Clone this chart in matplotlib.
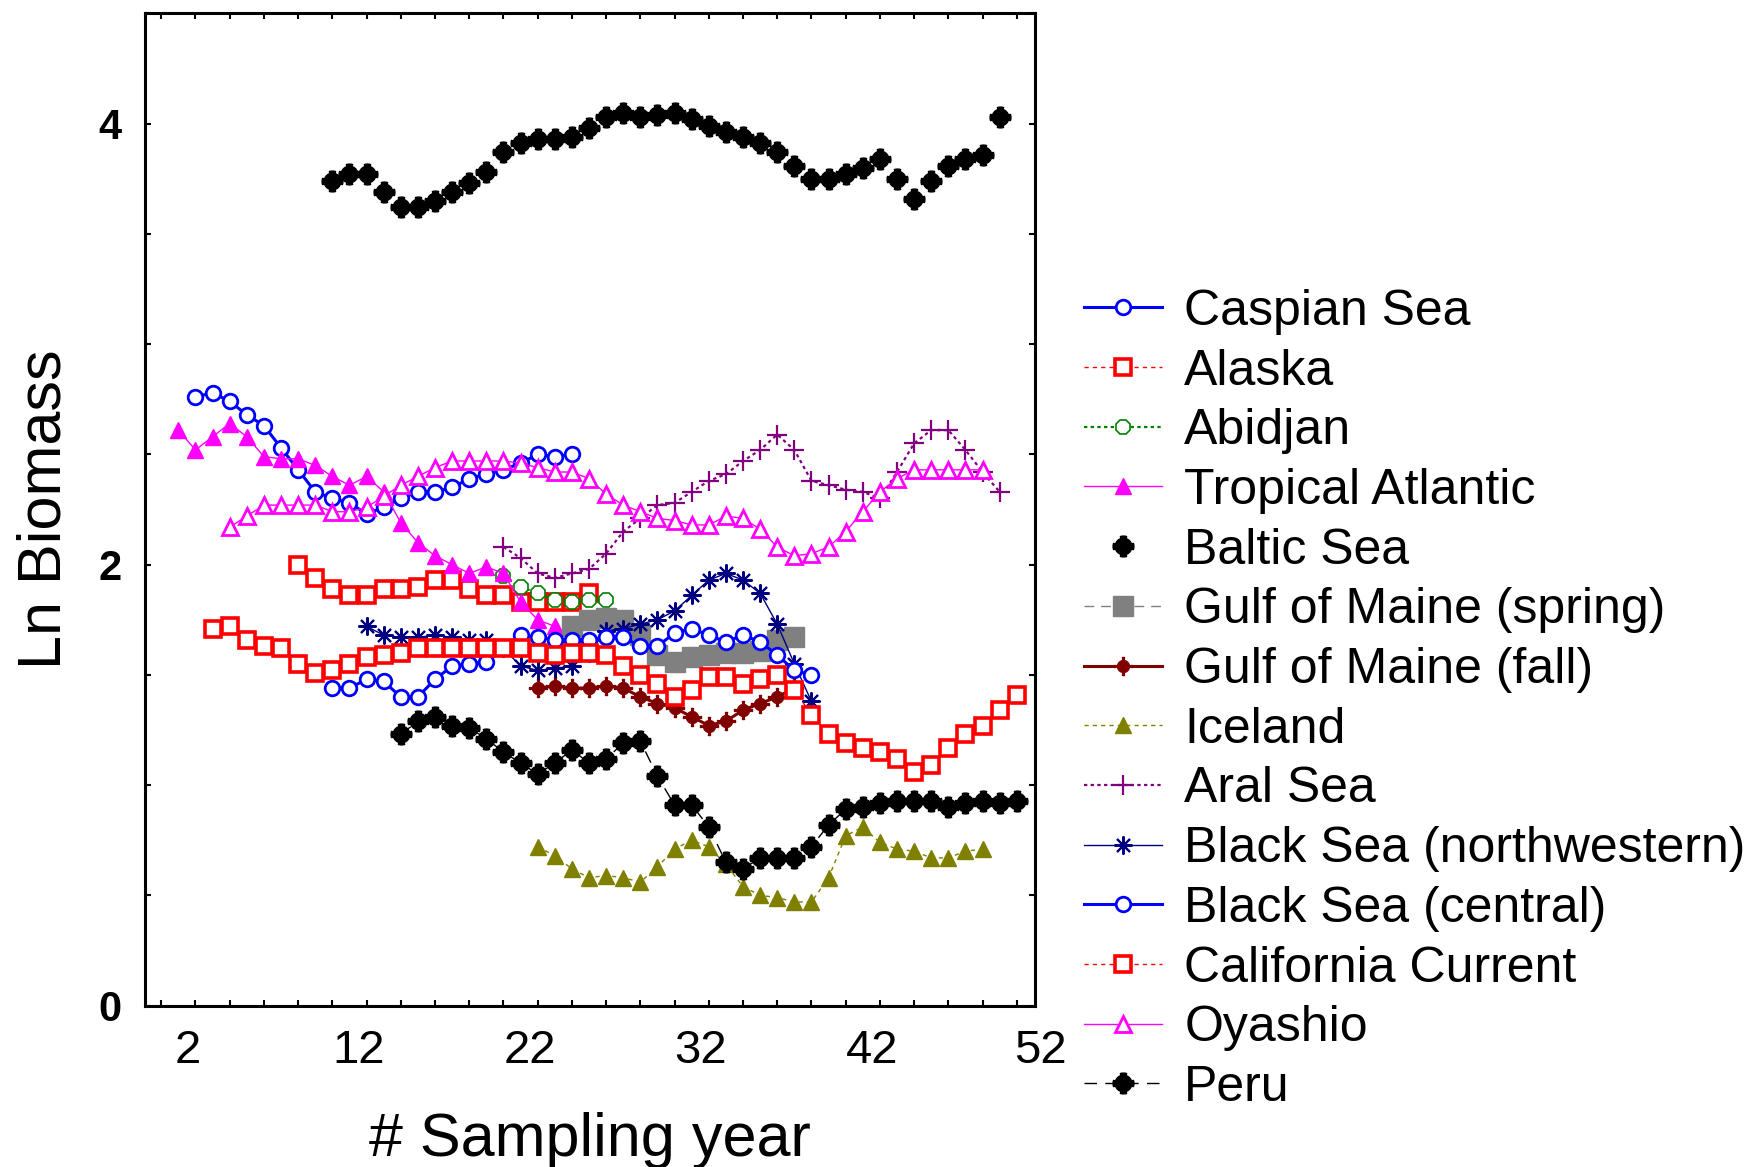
import numpy as np
import matplotlib
matplotlib.use('Agg')
import matplotlib.pyplot as plt
import matplotlib.transforms as mtrans
from matplotlib.ticker import MultipleLocator, FixedLocator

plt.rcParams['font.family'] = ['Liberation Sans', 'DejaVu Sans']

# ---- data (sampling year index, ln biomass) ----
caspian_years = list(range(2, 25))
caspian = [2.76, 2.78, 2.74, 2.68, 2.63, 2.53, 2.43, 2.33, 2.30, 2.28, 2.23, 2.26,
           2.30, 2.33, 2.33, 2.35, 2.39, 2.41, 2.43, 2.46, 2.50, 2.49, 2.50]

alaska_years = list(range(8, 26))
alaska = [2.00, 1.94, 1.89, 1.86, 1.86, 1.89, 1.89, 1.90, 1.93, 1.93, 1.89, 1.86,
          1.86, 1.83, 1.83, 1.83, 1.83, 1.87]

abidjan_years = list(range(20, 27))
abidjan = [1.95, 1.90, 1.87, 1.84, 1.83, 1.84, 1.84]

trop_atl_years = list(range(1, 24))
trop_atl = [2.61, 2.52, 2.58, 2.64, 2.58, 2.49, 2.48, 2.48, 2.45, 2.40, 2.36, 2.40,
            2.33, 2.19, 2.10, 2.04, 2.00, 1.96, 1.99, 1.96, 1.83, 1.75, 1.72]

baltic_years = list(range(10, 50))
baltic = [3.74, 3.77, 3.77, 3.69, 3.62, 3.62, 3.65, 3.69, 3.73, 3.78, 3.87, 3.91,
          3.93, 3.93, 3.94, 3.98, 4.03, 4.05, 4.03, 4.04, 4.05, 4.02, 3.99, 3.96,
          3.94, 3.91, 3.87, 3.81, 3.75, 3.75, 3.77, 3.80, 3.84, 3.75, 3.66, 3.74,
          3.81, 3.84, 3.86, 4.03]

gom_spring_years = list(range(24, 38))
gom_spring = [1.72, 1.75, 1.76, 1.75, 1.68, 1.59, 1.56, 1.58, 1.59, 1.60, 1.60,
              1.61, 1.66, 1.67]

gom_fall_years = list(range(22, 38))
gom_fall = [1.44, 1.45, 1.44, 1.44, 1.45, 1.44, 1.40, 1.37, 1.35, 1.31, 1.27, 1.29,
            1.34, 1.37, 1.40, 1.44]

iceland_years = list(range(22, 49))
iceland = [0.72, 0.68, 0.62, 0.58, 0.59, 0.58, 0.56, 0.63, 0.71, 0.75, 0.72, 0.64,
           0.54, 0.50, 0.49, 0.47, 0.47, 0.58, 0.77, 0.81, 0.74, 0.71, 0.70, 0.67,
           0.67, 0.70, 0.71]

aral_years = list(range(20, 50))
aral = [2.08, 2.03, 1.96, 1.94, 1.96, 1.98, 2.05, 2.15, 2.21, 2.27, 2.28, 2.33,
        2.38, 2.41, 2.47, 2.52, 2.59, 2.52, 2.38, 2.36, 2.34, 2.33, 2.30, 2.42,
        2.55, 2.61, 2.61, 2.52, 2.42, 2.33]

black_nw_years = list(range(12, 39))
black_nw = [1.72, 1.68, 1.67, 1.67, 1.68, 1.67, 1.66, 1.66, 1.62, 1.54, 1.52, 1.53,
            1.54, 1.60, 1.70, 1.71, 1.73, 1.75, 1.79, 1.86, 1.93, 1.96, 1.93, 1.87,
            1.73, 1.55, 1.38]

black_c_years = list(range(10, 39))
black_c = [1.44, 1.44, 1.48, 1.47, 1.40, 1.40, 1.48, 1.54, 1.55, 1.56, 1.62, 1.68,
           1.67, 1.66, 1.66, 1.66, 1.67, 1.67, 1.63, 1.63, 1.69, 1.71, 1.68, 1.65,
           1.68, 1.65, 1.59, 1.52, 1.50]

calif_years = list(range(3, 51))
calif = [1.71, 1.72, 1.66, 1.63, 1.62, 1.55, 1.51, 1.52, 1.55, 1.58, 1.59, 1.60,
         1.62, 1.62, 1.62, 1.62, 1.62, 1.62, 1.62, 1.60, 1.59, 1.60, 1.60, 1.59,
         1.54, 1.50, 1.46, 1.40, 1.43, 1.49, 1.49, 1.46, 1.48, 1.50, 1.43, 1.32,
         1.23, 1.19, 1.17, 1.15, 1.12, 1.06, 1.09, 1.17, 1.23, 1.27, 1.34, 1.41]

oyashio_years = list(range(4, 49))
oyashio = [2.17, 2.22, 2.27, 2.27, 2.27, 2.27, 2.24, 2.24, 2.26, 2.31, 2.36, 2.40,
           2.44, 2.47, 2.47, 2.47, 2.47, 2.46, 2.44, 2.42, 2.42, 2.39, 2.32, 2.27,
           2.24, 2.21, 2.20, 2.18, 2.18, 2.22, 2.21, 2.16, 2.08, 2.04, 2.05, 2.08,
           2.15, 2.24, 2.33, 2.39, 2.43, 2.43, 2.43, 2.43, 2.43]

peru_years = list(range(14, 51))
peru = [1.23, 1.29, 1.31, 1.27, 1.26, 1.21, 1.15, 1.10, 1.05, 1.10, 1.16, 1.10,
        1.12, 1.19, 1.20, 1.04, 0.91, 0.91, 0.81, 0.65, 0.62, 0.67, 0.67, 0.67,
        0.72, 0.82, 0.89, 0.90, 0.92, 0.93, 0.93, 0.93, 0.90, 0.92, 0.93, 0.92,
        0.93]

xtick_labels = [2, 12, 22, 32, 42, 52]


def nub_marker(r_in, w_deg):
    # round blob with four nubs sticking out (pixel-ish statistica symbols)
    th = np.linspace(0, 2 * np.pi, 721)
    d = np.degrees(th) % 90
    d = np.minimum(d, 90 - d)
    r = np.where(d < w_deg, 0.5, r_in)
    return np.column_stack([r * np.sin(th), r * np.cos(th)])


blob = nub_marker(0.40, 18)
sun = nub_marker(0.33, 7)

fig = plt.figure(figsize=(17.48, 11.67), dpi=100)
ax = fig.add_axes([0.08295, 0.1383, 0.50892, 0.85022])

thin = 1.0
ax.plot(caspian_years, caspian, '-', color='#0000FF', lw=2.2, marker='o', ms=10.5,
        mfc='white', mec='#0000FF', mew=2.0, label='Caspian Sea')
ax.plot(alaska_years, alaska, color='#FF0000', lw=thin, ls=(0, (3, 3)), marker='s',
        ms=11.5, mfc='white', mec='#FF0000', mew=2.6, label='Alaska')
ax.plot(abidjan_years, abidjan, color='#008000', lw=1.6, ls=(0, (1.5, 1.5)), marker='8',
        ms=11, mfc='white', mec='#008000', mew=1.2, label='Abidjan')
ax.plot(trop_atl_years, trop_atl, '-', color='#FF00FF', lw=thin, marker='^', ms=12,
        mfc='#FF00FF', mec='#FF00FF', label='Tropical Atlantic')
ax.plot(baltic_years, baltic, ls='none', color='black', marker=blob, ms=15,
        label='Baltic Sea')
ax.plot(gom_spring_years, gom_spring, color='#808080', lw=thin, ls=(0, (7, 5)),
        marker='s', ms=14, mfc='#808080', mec='#808080', label='Gulf of Maine (spring)')
ax.plot(gom_fall_years, gom_fall, '-', color='#800000', lw=2.2, marker=sun, ms=13,
        mfc='#800000', mec='#800000', label='Gulf of Maine (fall)')
ax.plot(iceland_years, iceland, color='#808000', lw=thin, ls=(0, (3, 3)), marker='^',
        ms=12, mfc='#808000', mec='#808000', label='Iceland')
ax.plot(aral_years, aral, color='#800080', lw=1.6, ls=(0, (1.5, 1.5)), marker='+',
        ms=14, mew=1.6, mec='#800080', label='Aral Sea')
ax.plot(black_nw_years, black_nw, '-', color='#000080', lw=thin, marker=(8, 2, 0),
        ms=13, mew=1.5, mec='#000080', label='Black Sea (northwestern)')
ax.plot(black_c_years, black_c, '-', color='#0000FF', lw=2.2, marker='o', ms=10.5,
        mfc='white', mec='#0000FF', mew=2.0, label='Black Sea (central)')
ax.plot(calif_years, calif, color='#FF0000', lw=thin, ls=(0, (3, 3)), marker='s',
        ms=11.5, mfc='white', mec='#FF0000', mew=2.6, label='California Current')
ax.plot(oyashio_years, oyashio, '-', color='#FF00FF', lw=thin, marker='^', ms=12,
        mfc='white', mec='#FF00FF', mew=2.0, label='Oyashio')
ax.plot(peru_years, peru, color='black', lw=thin, ls=(0, (9, 6)), marker=blob, ms=15,
        label='Peru')

ax.set_xlim(-0.95, 51.04)
ax.set_ylim(0, 4.5)
ax.xaxis.set_major_locator(FixedLocator(xtick_labels[:-1]))
ax.xaxis.set_minor_locator(MultipleLocator(2))
ax.yaxis.set_major_locator(FixedLocator([0, 2, 4]))
ax.yaxis.set_minor_locator(MultipleLocator(0.5))

ax.tick_params(which='both', direction='in', top=True, right=True,
               length=4, width=1.5)
ax.tick_params(axis='x', labelsize=34, pad=17)
ax.tick_params(axis='y', labelsize=30, pad=17)
for lab in ax.get_yticklabels():
    lab.set_fontweight('bold')

# the original prints its x labels a little left of the tick marks
shift = mtrans.ScaledTranslation(-8 / 100, 0, fig.dpi_scale_trans)
for lab in ax.get_xticklabels():
    lab.set_transform(lab.get_transform() + shift)
# last label sits just past the right frame
ax.text(xtick_labels[-1], 0, str(xtick_labels[-1]), fontsize=34, ha='center', va='top',
        clip_on=False,
        transform=ax.get_xaxis_transform()
        + mtrans.ScaledTranslation(-11 / 100, -17 / 72, fig.dpi_scale_trans))

for sp in ax.spines.values():
    sp.set_linewidth(2.2)

ax.set_xlabel('# Sampling year', fontsize=44)
ax.set_ylabel('Ln Biomass', fontsize=44)
ax.xaxis.set_label_coords(0.5, -0.107)
ax.yaxis.set_label_coords(-0.08, 0.5)

fig.legend(loc='upper left', bbox_to_anchor=(0.62, 0.7525), frameon=False,
           fontsize=36, borderpad=0, borderaxespad=0, handlelength=1.56,
           handletextpad=0.45, labelspacing=0.274)

fig.savefig('out.png', dpi=100)
